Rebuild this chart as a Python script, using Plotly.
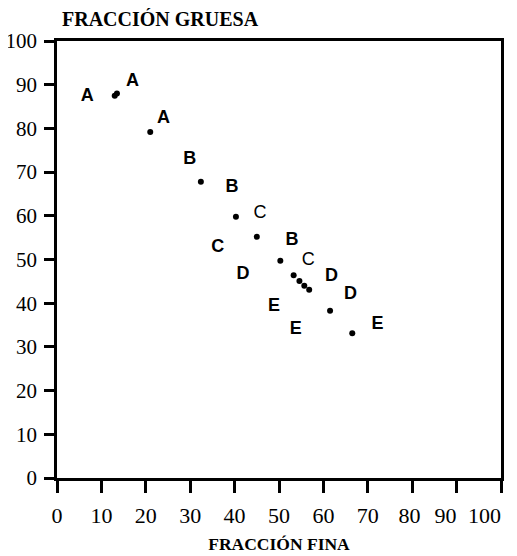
import plotly.graph_objects as go

# Data points (fine fraction %, coarse fraction %)
fina = [13.0, 13.5, 21.0, 32.4, 40.3, 45.0, 50.3, 53.3, 54.6, 55.7, 56.8, 61.5, 66.5]
gruesa = [87.5, 88.0, 79.2, 67.8, 59.8, 55.2, 49.7, 46.4, 45.1, 44.0, 43.1, 38.3, 33.1]

# Bold letter labels
lab_bold = ["A", "A", "A", "B", "B", "C", "B", "D", "D", "D", "E", "E", "E"]
lab_bold_x = [6.8, 17.0, 24.0, 29.9, 39.4, 36.2, 52.9, 41.9, 61.8, 66.1, 48.9, 53.8, 72.2]
lab_bold_y = [87.2, 90.7, 82.2, 72.9, 66.5, 52.8, 54.4, 46.5, 46.0, 42.1, 39.2, 33.9, 35.1]

# Lighter letter labels
lab_thin = ["C", "C"]
lab_thin_x = [45.7, 56.6]
lab_thin_y = [60.6, 49.7]

ticks = [0, 10, 20, 30, 40, 50, 60, 70, 80, 90, 100]
NB = "\u00a0"
xticktext = [str(t) for t in ticks]
xticktext[-3] = "80" + NB
xticktext[-2] = "90" + NB * 4
xticktext[-1] = "100" + NB * 6

# page body adds an 8px offset; size the figure to fit the window
OFF = 8
W, H = 517 - OFF, 556 - OFF

fig = go.Figure()
fig.add_trace(go.Scatter(x=fina, y=gruesa, mode="markers",
                         marker=dict(color="black", size=6), showlegend=False))
fig.add_trace(go.Scatter(x=lab_bold_x, y=lab_bold_y, mode="text", text=lab_bold,
                         textfont=dict(family="Liberation Sans", size=18, color="black", weight="bold"),
                         showlegend=False))
fig.add_trace(go.Scatter(x=lab_thin_x, y=lab_thin_y, mode="text", text=lab_thin,
                         textfont=dict(family="Liberation Sans", size=18, color="black"),
                         showlegend=False))

fig.update_layout(
    width=W, height=H,
    margin=dict(l=57 - OFF, r=16, t=41 - OFF, b=78),
    paper_bgcolor="white", plot_bgcolor="white",
    font=dict(family="Liberation Serif", color="black"),
    title=dict(text="<b>FRACCIÓN GRUESA</b>", xref="container", yref="container",
               x=(62 - OFF) / W, y=1 - (19 - OFF) / H, xanchor="left", yanchor="middle",
               font=dict(family="Liberation Serif", size=20, color="black")),
)
fig.update_xaxes(range=[0, 100], tickvals=ticks, ticktext=xticktext, automargin=False,
                 ticklabeloverflow="allow", tickangle=0,
                 showgrid=False, zeroline=False, showline=True, linecolor="black", linewidth=2.5,
                 mirror=True, ticks="outside", ticklen=12, tickwidth=2.5, tickcolor="black",
                 tickfont=dict(family="Liberation Serif", size=22, color="black"),
                 ticklabelstandoff=4,
                 title=dict(text="<b>FRACCIÓN FINA</b>", standoff=11,
                            font=dict(family="Liberation Serif", size=17.5, color="black")))
fig.update_yaxes(range=[0, 100], tickvals=ticks, ticktext=[str(t) for t in ticks], automargin=False,
                 ticklabeloverflow="allow",
                 showgrid=False, zeroline=False, showline=True, linecolor="black", linewidth=2.5,
                 mirror=True, ticks="outside", ticklen=10, tickwidth=2.5, tickcolor="black",
                 tickfont=dict(family="Liberation Serif", size=21, color="black"),
                 ticklabelstandoff=3)

fig.write_html("out.html")
